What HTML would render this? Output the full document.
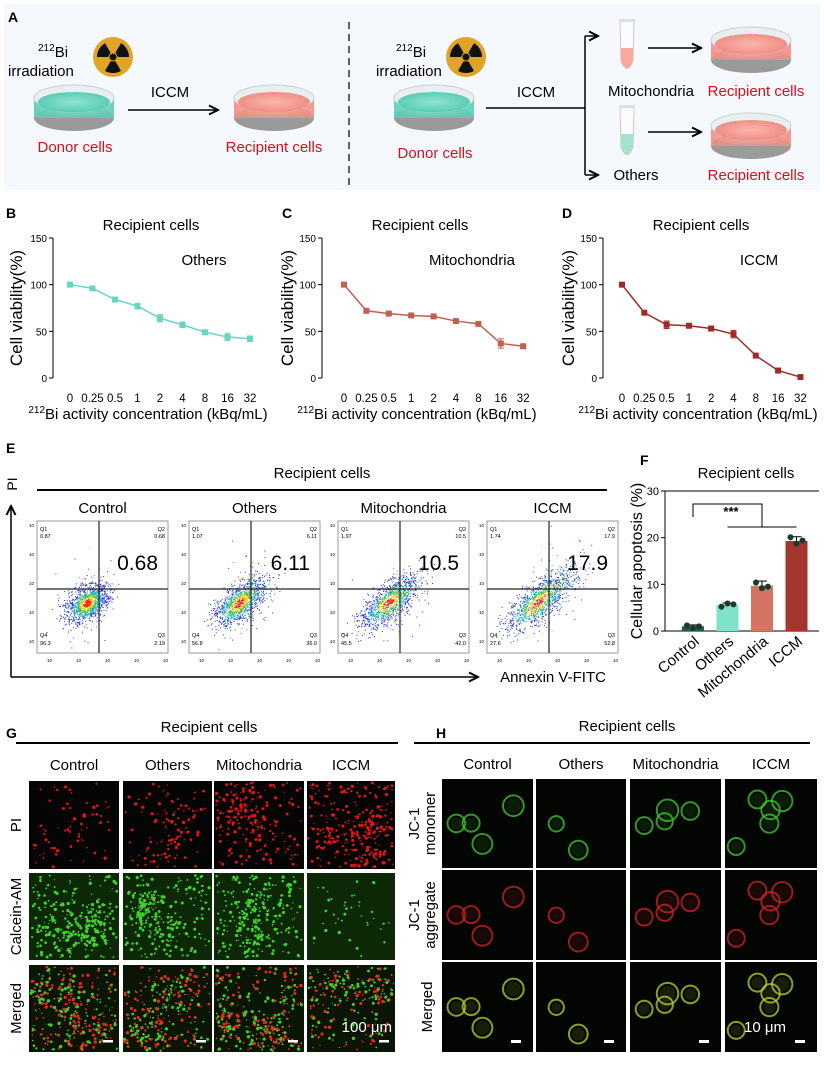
<!DOCTYPE html>
<html><head><meta charset="utf-8"><style>
body{margin:0;background:#fff;}
svg text{font-family:"Liberation Sans",sans-serif;}
</style></head><body>
<svg id="fig" xmlns="http://www.w3.org/2000/svg" width="824" height="1061" viewBox="0 0 824 1061">
<defs>
<marker id="ar" markerWidth="8" markerHeight="8" refX="7" refY="4" orient="auto"><path d="M1,1 L7,4 L1,7" fill="none" stroke="#000" stroke-width="1.3"/></marker>
<radialGradient id="dishG" cx="50%" cy="50%" r="50%"><stop offset="0" stop-color="#8fe3d2"/><stop offset="1" stop-color="#5ccdb6"/></radialGradient>
<radialGradient id="dishR" cx="50%" cy="50%" r="50%"><stop offset="0" stop-color="#fbb5ad"/><stop offset="1" stop-color="#ef8f86"/></radialGradient>
</defs>
<g>
<rect x="4" y="4" width="816" height="186" fill="#f5f8fc"/>
<text x="8" y="22" font-size="14" font-weight="bold">A</text>
<line x1="349" y1="22" x2="349" y2="186" stroke="#333" stroke-width="1.5" stroke-dasharray="7,5"/>
<g id="aContent"></g>
</g>
<g id="charts"></g>
<g id="panelE"></g>
<g id="panelF"></g>
<g id="panelG"></g>
<g id="panelH"></g>
</svg>
<script>
const NS="http://www.w3.org/2000/svg";
function mk(parent,tag,attrs,txt){const e=document.createElementNS(NS,tag);for(const k in attrs)e.setAttribute(k,attrs[k]);if(txt!==undefined)e.textContent=txt;parent.appendChild(e);return e;}
let seed=12345;function rnd(){seed=(seed*1103515245+12345)%2147483648;return seed/2147483648;}
function gauss(){return Math.sqrt(-2*Math.log(rnd()+1e-9))*Math.cos(2*Math.PI*rnd());}

const A=document.getElementById('aContent');
function dish(cx,cy,fill){
  const g=mk(A,'g',{});
  
  
  mk(g,'ellipse',{cx:cx,cy:cy+12,rx:40,ry:13,fill:'#9a9a9a'});
  mk(g,'rect',{x:cx-40,y:cy-8,width:80,height:20,fill:fill,opacity:0.9});
  mk(g,'ellipse',{cx:cx,cy:cy-8,rx:40,ry:13,fill:'#e9eef0',stroke:'#c9d0d3'});
  mk(g,'ellipse',{cx:cx,cy:cy-4,rx:36,ry:10,fill:fill});
}
function rad(cx,cy){
  const g=mk(A,'g',{});
  
  
  mk(g,'circle',{cx:cx,cy:cy,r:20,fill:'#e0a526'});
  for(let k=0;k<3;k++){const a0=(-90+k*120-30)*Math.PI/180,a1=(-90+k*120+30)*Math.PI/180;
    const r0=5,r1=16;
    mk(g,'path',{d:`M${cx+r0*Math.cos(a0)},${cy+r0*Math.sin(a0)} L${cx+r1*Math.cos(a0)},${cy+r1*Math.sin(a0)} A${r1},${r1} 0 0 1 ${cx+r1*Math.cos(a1)},${cy+r1*Math.sin(a1)} L${cx+r0*Math.cos(a1)},${cy+r0*Math.sin(a1)} Z`,fill:'#111',transform:`rotate(180 ${cx} ${cy})`});}
  mk(g,'circle',{cx:cx,cy:cy,r:3.5,fill:'#111'});
}
function txt(x,y,s,opts,name){const t=mk(A,'text',Object.assign({x:x,y:y,'font-size':15},opts||{}),s);return t;}
function bi(x,y){const t=mk(A,'text',{x:x,y:y,'font-size':15});
  mk(t,'tspan',{'font-size':10,dy:-6},'212');mk(t,'tspan',{dy:6},'Bi');}
bi(38,57);txt(8,76,'irradiation',{},'irradiation-label');rad(113,57);
dish(74,106,'url(#dishG)');txt(75,152,'Donor cells',{fill:'#d0121b','text-anchor':'middle'},'donor-cells-label');
txt(170,97,'ICCM',{'text-anchor':'middle'},'iccm-label');
mk(A,'line',{x1:128,y1:110,x2:218,y2:110,stroke:'#000','stroke-width':1.5,'marker-end':'url(#ar)'});
dish(274,106,'url(#dishR)');txt(274,152,'Recipient cells',{fill:'#d0121b','text-anchor':'middle'},'recipient-cells-label');
bi(396,57);txt(376,76,'irradiation',{},'irradiation-label');rad(466,57);
dish(434,106,'url(#dishG)');txt(435,158,'Donor cells',{fill:'#d0121b','text-anchor':'middle'},'donor-cells-label');
txt(536,97,'ICCM',{'text-anchor':'middle'},'iccm-label');
mk(A,'polyline',{points:'486,108 585,108',stroke:'#000','stroke-width':1.5,fill:'none'});
mk(A,'line',{x1:585,y1:36,x2:585,y2:175,stroke:'#000','stroke-width':1.5});
mk(A,'line',{x1:585,y1:36,x2:598,y2:36,stroke:'#000','stroke-width':1.5,'marker-end':'url(#ar)'});
mk(A,'line',{x1:585,y1:175,x2:598,y2:175,stroke:'#000','stroke-width':1.5,'marker-end':'url(#ar)'});
function tube(x,y,c){const g=mk(A,'g',{});
  mk(g,'path',{d:`M${x-7},${y} L${x+7},${y} L${x+6},${y+40} Q${x},${y+55} ${x-6},${y+40} Z`,fill:'#fbfbfb',stroke:'#ccc'});
  mk(g,'path',{d:`M${x-6.4},${y+27} L${x+6.4},${y+27} L${x+6},${y+40} Q${x},${y+55} ${x-6},${y+40} Z`,fill:c});
  mk(g,'rect',{x:x-8,y:y-2,width:16,height:3,fill:'#ddd'});}
tube(627,21,'#f6a99c');tube(627,107,'#a6e0cf');
txt(651,96,'Mitochondria',{'text-anchor':'middle'},'mitochondria-label');
txt(636,180,'Others',{'text-anchor':'middle'},'others-label');
mk(A,'line',{x1:648,y1:48,x2:701,y2:48,stroke:'#000','stroke-width':1.5,'marker-end':'url(#ar)'});
mk(A,'line',{x1:648,y1:132,x2:701,y2:132,stroke:'#000','stroke-width':1.5,'marker-end':'url(#ar)'});
dish(751,48,'url(#dishR)');dish(751,134,'url(#dishR)');
txt(756,96,'Recipient cells',{fill:'#d0121b','text-anchor':'middle'},'recipient-cells-label');
txt(756,180,'Recipient cells',{fill:'#d0121b','text-anchor':'middle'},'recipient-cells-label');

const doseLabels=['0','0.25','0.5','1','2','4','8','16','32'];
const othersViability=[100,96,84,77,64,57,49,44,42];
const othersErr=[2,2,2,3,4,3,2,4,3];
const mitoViability=[100,72,69,67,66,61,58,37,34];
const mitoErr=[2,1,1,1,1,1,1,5,2];
const iccmViability=[100,70,57,56,53,47,24,8,1];
const iccmErr=[2,1,4,2,2,4,1,1,1];
const yTicks=[0,50,100,150];
const C=document.getElementById('charts');
function lineChart(letter,lx,axisX,x0,dx,ylabX,vals,errs,color,inner,innerX){
  const g=mk(C,'g',{});
  
  
  const y=v=>378-v/150*140;
  const x=i=>x0+i*dx;
  const pl=mk(g,'text',{x:lx,y:218,'font-size':14,'font-weight':'bold'},letter);
  
  const t=mk(g,'text',{x:axisX+98,y:230,'font-size':15,'text-anchor':'middle'},'Recipient cells');
  
  const ax=mk(g,'line',{x1:axisX,y1:y(150),x2:axisX,y2:y(0),stroke:'#000','stroke-width':1});
  
  yTicks.forEach(v=>{mk(g,'line',{x1:axisX-4,y1:y(v),x2:axisX,y2:y(v),stroke:'#000'});
    const tl=mk(g,'text',{x:axisX-6,y:y(v)+4,'font-size':10,'text-anchor':'end'},v);
    });
  doseLabels.forEach((d,i)=>{const tl=mk(g,'text',{x:x(i),y:402,'font-size':11.5,'text-anchor':'middle'},d);
    });
  const xl=mk(g,'text',{x:axisX+95,y:419,'font-size':15,'text-anchor':'middle'});
  
  mk(xl,'tspan',{'font-size':10,dy:-6},'212');mk(xl,'tspan',{dy:6},'Bi activity concentration (kBq/mL)');
  const yl=mk(g,'text',{x:0,y:0,'font-size':17,'text-anchor':'middle',transform:`translate(${ylabX},308) rotate(-90)`},'Cell viability(%)');
  
  const il=mk(g,'text',{x:innerX,y:265,'font-size':15,'text-anchor':'middle'},inner);
  
  const ln=mk(g,'polyline',{points:vals.map((v,i)=>x(i)+','+y(v)).join(' '),fill:'none',stroke:color,'stroke-width':1.5});
  
  vals.forEach((v,i)=>{
    mk(g,'line',{x1:x(i),y1:y(v+errs[i]),x2:x(i),y2:y(v-errs[i]),stroke:color,'stroke-width':1});
    mk(g,'line',{x1:x(i)-3,y1:y(v+errs[i]),x2:x(i)+3,y2:y(v+errs[i]),stroke:color});
    mk(g,'line',{x1:x(i)-3,y1:y(v-errs[i]),x2:x(i)+3,y2:y(v-errs[i]),stroke:color});
    const p=mk(g,'rect',{x:x(i)-3,y:y(v)-3,width:6,height:6,fill:color});
    });
}
lineChart('B',6,53,70,22.5,22,othersViability,othersErr,'#66d6c0','Others',204);
lineChart('C',282,322,344,22.4,293,mitoViability,mitoErr,'#c1604f','Mitochondria',472);
lineChart('D',562,603,622,22.3,574,iccmViability,iccmErr,'#a02a2a','ICCM',759);

const E=document.getElementById('panelE');
const flowGroups=['Control','Others','Mitochondria','ICCM'];
const flowQ2=['0.68','6.11','10.5','17.9'];
const flowQ1=['0.87','1.07','1.97','1.74'];
const flowQ3=['2.19','36.0','42.0','52.8'];
const flowQ4=['96.3','56.8','45.5','27.6'];
const flowShift=[0,0.35,0.5,0.7];
function te(p,x,y,s,o,name){const t=mk(p,'text',Object.assign({x:x,y:y},o),s);return t;}
te(E,6,453,'E',{'font-size':14,'font-weight':'bold'},'panel-label-e');
te(E,322,478,'Recipient cells',{'font-size':15,'text-anchor':'middle'},'panel-e-title');
mk(E,'line',{x1:37,y1:490,x2:607,y2:490,stroke:'#000','stroke-width':2});
mk(E,'line',{x1:11,y1:677,x2:11,y2:506,stroke:'#000','stroke-width':1.5,'marker-end':'url(#ar)'});
mk(E,'line',{x1:11,y1:677,x2:478,y2:677,stroke:'#000','stroke-width':1.5,'marker-end':'url(#ar)'});
te(E,0,0,'PI',{'font-size':14,'text-anchor':'middle',transform:'translate(17,484) rotate(-90)'},'y-axis-title-pi');
te(E,553,682,'Annexin V-FITC',{'font-size':15,'text-anchor':'middle'},'x-axis-title-annexin');
const boxX=[37,189,338,487];
flowGroups.forEach((gname,k)=>{
  const g=mk(E,'g',{});
  
  
  const x0=boxX[k],y0=521,w=131,h=132;
  te(g,x0+w/2,513,gname,{'font-size':15,'text-anchor':'middle'},'group-label');
  mk(g,'rect',{x:x0,y:y0,width:w,height:h,fill:'#fff',stroke:'#999'});
  const cx=x0+50,cy=y0+82,s=flowShift[k];
  const n=1200;
  for(let i=0;i<n;i++){
    const a=gauss(),b=gauss();
    let t=a*(11+s*10)+ (rnd()<s*0.5? rnd()*40*s:0);
    let px=cx+t*0.8+b*6, py=cy-t*0.75+b*5+(rnd()<0.05?gauss()*20:0);
    if(px<x0+2||px>x0+w-2||py<y0+2||py>y0+h-2)continue;
    const d=Math.sqrt(a*a+b*b);
    const col=d<0.4?'#e8231a':d<0.7?'#f0d21c':d<1.0?'#39c04a':d<1.4?'#1aa9c9':'#2234d8';
    mk(g,'rect',{x:px,y:py,width:1,height:1,fill:col});
  }
  const vx=x0+62,hy=y0+68;
  mk(g,'line',{x1:vx,y1:y0,x2:vx,y2:y0+h,stroke:'#222','stroke-width':1.2});
  mk(g,'line',{x1:x0,y1:hy,x2:x0+w,y2:hy,stroke:'#222','stroke-width':1.2});
  te(g,x0+3,y0+10,'Q1',{'font-size':5.5},'quadrant-label');te(g,x0+3,y0+17,flowQ1[k],{'font-size':5.5},'quadrant-value');
  te(g,x0+w-3,y0+10,'Q2',{'font-size':5.5,'text-anchor':'end'},'quadrant-label');te(g,x0+w-3,y0+17,flowQ2[k],{'font-size':5.5,'text-anchor':'end'},'quadrant-value');
  te(g,x0+3,y0+h-16,'Q4',{'font-size':5.5},'quadrant-label');te(g,x0+3,y0+h-8,flowQ4[k],{'font-size':5.5},'quadrant-value');
  te(g,x0+w-3,y0+h-16,'Q3',{'font-size':5.5,'text-anchor':'end'},'quadrant-label');te(g,x0+w-3,y0+h-8,flowQ3[k],{'font-size':5.5,'text-anchor':'end'},'quadrant-value');
  te(g,x0+w-10,y0+49,flowQ2[k],{'font-size':21,'text-anchor':'end'},'q2-percentage');
  for(let j=0;j<5;j++){te(g,x0+10+j*29,y0+h+9,'10',{'font-size':4.5},'x-tick');te(g,x0-8,y0+6+j*29,'10',{'font-size':4.5},'y-tick');}
});

const F=document.getElementById('panelF');
const apopGroups=['Control','Others','Mitochondria','ICCM'];
const apopMeans=[1.0,5.6,9.7,19.3];
const apopErr=[0.3,0.4,1.0,0.9];
const apopPoints=[[1.2,0.7,1.0],[5.2,5.9,5.7],[10.4,9.2,9.5],[20.1,18.7,19.4]];
const apopTicks=[0,10,20,30];
const apopColors=['#1e5c45','#7fe3cc','#d27461','#a5362e'];
const fy=v=>631-v/30*140;
const fx=i=>693+i*34.5;
te(F,640,465,'F',{'font-size':14,'font-weight':'bold'},'panel-label-f');
te(F,746,478,'Recipient cells',{'font-size':15,'text-anchor':'middle'},'panel-f-title');
mk(F,'line',{x1:665,y1:fy(30),x2:665,y2:fy(0),stroke:'#000'});
mk(F,'line',{x1:665,y1:fy(30),x2:819,y2:fy(30),stroke:'#000'});
mk(F,'line',{x1:665,y1:fy(0),x2:819,y2:fy(0),stroke:'#000'});
apopTicks.forEach(v=>{mk(F,'line',{x1:661,y1:fy(v),x2:665,y2:fy(v),stroke:'#000'});
  te(F,659,fy(v)+4,v,{'font-size':11,'text-anchor':'end'},'y-tick-label');});
te(F,0,0,'Cellular apoptosis (%)',{'font-size':16,'text-anchor':'middle',transform:`translate(642,561) rotate(-90)`},'y-axis-title');
apopMeans.forEach((v,i)=>{
  const b=mk(F,'rect',{x:fx(i)-11,y:fy(v),width:22,height:fy(0)-fy(v),fill:apopColors[i]});
  
  
  mk(F,'line',{x1:fx(i),y1:fy(v+apopErr[i]),x2:fx(i),y2:fy(v),stroke:'#000'});
  mk(F,'line',{x1:fx(i)-5,y1:fy(v+apopErr[i]),x2:fx(i)+5,y2:fy(v+apopErr[i]),stroke:'#000'});
  apopPoints[i].forEach((p,j)=>{const c=mk(F,'circle',{cx:fx(i)-6+j*6,cy:fy(p),r:3,fill:'#1c3a2c'});
    });
  te(F,0,0,apopGroups[i],{'font-size':15,'text-anchor':'end',transform:`translate(${fx(i)+7},${fy(0)+12}) rotate(-40)`},'x-tick-label');
});
mk(F,'polyline',{points:`${fx(0)},517 ${fx(0)},504 762,504 762,527`,fill:'none',stroke:'#000'});
mk(F,'line',{x1:fx(1),y1:527,x2:fx(3),y2:527,stroke:'#000'});
te(F,731,516,'***',{'font-size':13,'font-weight':'bold','text-anchor':'middle'},'significance-stars');

function micro(p,x,y,w,h,type,density,name){
  const g=mk(p,'g',{});
  
  
  const bg=type==='green'?'#0c2807':type==='merged'?'#0b1505':'#050505';
  mk(g,'rect',{x:x,y:y,width:w,height:h,fill:bg});
  const nc=4;const centers=[];for(let c=0;c<nc;c++)centers.push([x+10+rnd()*(w-20),y+10+rnd()*(h-20)]);
  for(let i=0;i<density;i++){
    let px,py;
    if(rnd()<0.45){const c=centers[Math.floor(rnd()*nc)];px=c[0]+gauss()*9;py=c[1]+gauss()*9;}
    else{px=x+2+rnd()*(w-4);py=y+2+rnd()*(h-4);}
    if(px<x+1||px>x+w-1||py<y+1||py>y+h-1)continue;
    let col;
    if(type==='red')col='#e01515';else if(type==='green')col='#3ed42a';
    else col=rnd()<0.5?'#e52a1a':'#3cd22a';
    mk(g,'circle',{cx:px,cy:py,r:0.6+rnd()*1.1,fill:col});
  }
  return g;
}
function cells(p,x,y,w,h,col,n,name){
  const g=mk(p,'g',{});
  
  
  mk(g,'rect',{x:x,y:y,width:w,height:h,fill:'#030503'});
  for(let i=0;i<n;i++){
    const cx=x+10+rnd()*(w-20),cy=y+10+rnd()*(h-20),r=7+rnd()*4;
    mk(g,'circle',{cx:cx,cy:cy,r:r,fill:'none',stroke:col,'stroke-width':2,opacity:0.75});
    mk(g,'circle',{cx:cx,cy:cy,r:r-3,fill:col,opacity:0.12});
  }
  return g;
}
const G=document.getElementById('panelG');
const micGroups=['Control','Others','Mitochondria','ICCM'];
te(G,6,738,'G',{'font-size':14,'font-weight':'bold'},'panel-label-g');
te(G,209,732,'Recipient cells',{'font-size':15,'text-anchor':'middle'},'panel-g-title');
mk(G,'line',{x1:16,y1:743,x2:398,y2:743,stroke:'#000','stroke-width':2});
const gColX=[29,123,214,307],gColW=[90,89,90,88];
const gRowY=[781,873,965],gRowH=[88,87,87];
const gRows=['PI','Calcein-AM','Merged'];
const gTypes=['red','green','merged'];
const gDens=[[70,110,220,280],[300,260,280,40],[320,300,320,240]];
micGroups.forEach((n,c)=>te(G,gColX[c]+gColW[c]/2,770,n,{'font-size':15,'text-anchor':'middle'},'column-label'));
gRows.forEach((r,ri)=>{
  te(G,0,0,r,{'font-size':15,'text-anchor':'middle',transform:`translate(${21},${gRowY[ri]+gRowH[ri]/2}) rotate(-90)`},'row-label');
  micGroups.forEach((n,c)=>micro(G,gColX[c],gRowY[ri],gColW[c],gRowH[ri],gTypes[ri],gDens[ri][c],'image-'+r.toLowerCase()+'-'+n.toLowerCase()));
});
gColX.forEach((x,c)=>mk(G,'rect',{x:x+gColW[c]-16,y:1040,width:10,height:2.5,fill:'#fff'}));
te(G,392,1032,'100 μm',{'font-size':15,'fill':'#fff','text-anchor':'end'},'scale-bar-label');

const H=document.getElementById('panelH');
te(H,436,738,'H',{'font-size':14,'font-weight':'bold'},'panel-label-h');
te(H,627,731,'Recipient cells',{'font-size':15,'text-anchor':'middle'},'panel-h-title');
mk(H,'line',{x1:414,y1:743,x2:810,y2:743,stroke:'#000','stroke-width':2});
const hColX=[442,536,630,725],hColW=[91,90,91,92];
const hRowY=[779,870,962],hRowH=[89,90,90];
const hCols=['#3ccf2a','#d8231d','#b9d42a'];
const hCounts=[4,2,4,5];
micGroups.forEach((n,c)=>te(H,hColX[c]+hColW[c]/2,769,n,{'font-size':15,'text-anchor':'middle'},'column-label'));
const hRowLbl=[['JC-1','monomer'],['JC-1','aggregate'],['Merged']];
hRowLbl.forEach((l,ri)=>{
  const cy=hRowY[ri]+hRowH[ri]/2;
  if(l.length===2){te(H,0,0,l[0],{'font-size':15,'text-anchor':'middle',transform:`translate(419,${cy}) rotate(-90)`},'row-label');
    te(H,0,0,l[1],{'font-size':15,'text-anchor':'middle',transform:`translate(435,${cy}) rotate(-90)`},'row-label');}
  else te(H,0,0,l[0],{'font-size':15,'text-anchor':'middle',transform:`translate(432,${cy}) rotate(-90)`},'row-label');
});
micGroups.forEach((n,c)=>{
  hRowY.forEach((y,ri)=>{seed=1000+c*7;cells(H,hColX[c],y,hColW[c],hRowH[ri],hCols[ri],hCounts[c],'jc1-image-'+n.toLowerCase()+'-'+ri);});
  mk(H,'rect',{x:hColX[c]+hColW[c]-22,y:1040,width:10,height:3,fill:'#fff'});
});
te(H,786,1032,'10 μm',{'font-size':15,'fill':'#fff','text-anchor':'end'},'scale-bar-label');
</script>
</body></html>
